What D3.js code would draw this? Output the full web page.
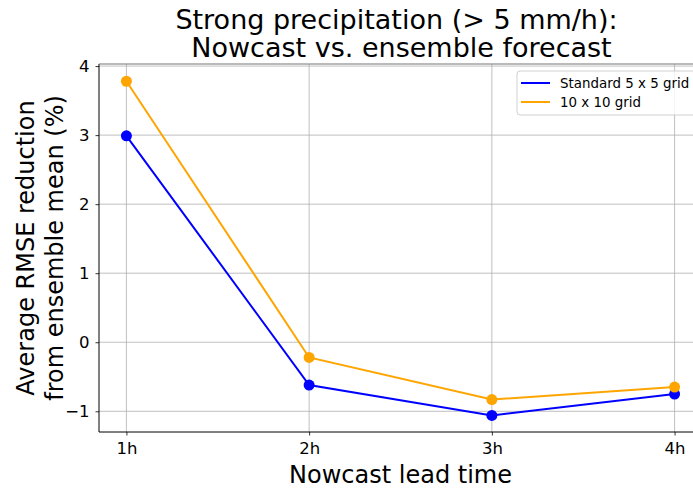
<!DOCTYPE html>
<html>
<head>
<meta charset="utf-8">
<script src="https://cdn.jsdelivr.net/npm/d3@7"></script>
<style>
  body { margin: 0; background: #fff; }
  text { font-family: "DejaVu Sans", sans-serif; }
</style>
</head>
<body>
<div id="chart"></div>
<script>
const leadTimes = ['1h', '2h', '3h', '4h'];
const standardGrid = [2.99, -0.62, -1.06, -0.75];
const largeGrid = [3.78, -0.22, -0.83, -0.65];
const yTicks = [-1, 0, 1, 2, 3, 4];

const width = 693, height = 488;
const margin = {top: 64, right: -9, bottom: 56, left: 99};

const svg = d3.select('#chart').append('svg')
  .attr('width', width)
  .attr('height', height);

const x = d3.scaleLinear()
  .domain([0.85, 4.15])
  .range([margin.left, width - margin.right]);

const y = d3.scaleLinear()
  .domain([-1.30, 4.03])
  .range([height - margin.bottom, margin.top]);

// grid
const grid = svg.append('g');
grid.selectAll('.vg')
  .data(leadTimes)
  .enter().append('line')
  .attr('x1', (d, i) => x(i + 1)).attr('x2', (d, i) => x(i + 1))
  .attr('y1', y.range()[0]).attr('y2', y.range()[1])
  .attr('stroke', '#b0b0b0').attr('stroke-width', 0.8);
grid.selectAll('.hg')
  .data(yTicks)
  .enter().append('line')
  .attr('x1', margin.left).attr('x2', width)
  .attr('y1', d => y(d)).attr('y2', d => y(d))
  .attr('stroke', '#b0b0b0').attr('stroke-width', 0.8);

// axes
const xAxis = svg.append('g')
  .attr('transform', `translate(0,${height - margin.bottom})`)
  .call(d3.axisBottom(x).tickValues([1, 2, 3, 4]).tickFormat((d, i) => leadTimes[i]).tickSize(3.5).tickPadding(7));
const yAxis = svg.append('g')
  .attr('transform', `translate(${margin.left},0)`)
  .call(d3.axisLeft(y).tickValues(yTicks).tickFormat(d => d < 0 ? '\u2212' + Math.abs(d) : d).tickSize(3.5).tickPadding(6));

[xAxis, yAxis].forEach(a => {
  a.select('.domain').remove();
  a.selectAll('text').style('font-size', '16.5px').attr('fill', '#000');
  a.selectAll('line').attr('stroke', '#000').attr('stroke-width', 0.8);
});

// spines
svg.append('line')
  .attr('x1', margin.left).attr('x2', margin.left)
  .attr('y1', y.range()[0]).attr('y2', y.range()[1])
  .attr('stroke', '#000').attr('stroke-width', 1);
svg.append('line')
  .attr('x1', margin.left).attr('x2', width)
  .attr('y1', y.range()[0]).attr('y2', y.range()[0])
  .attr('stroke', '#000').attr('stroke-width', 1);
svg.append('line')
  .attr('x1', margin.left).attr('x2', width)
  .attr('y1', y.range()[1]).attr('y2', y.range()[1])
  .attr('stroke', '#777').attr('stroke-width', 1.2);

// series
const series = [
  {name: 'Standard 5 x 5 grid', values: standardGrid, color: 'blue'},
  {name: '10 x 10 grid', values: largeGrid, color: 'orange'}
];

const line = d3.line()
  .x((d, i) => x(i + 1))
  .y(d => y(d));

series.forEach(s => {
  svg.append('path')
    .datum(s.values)
    .attr('fill', 'none')
    .attr('stroke', s.color)
    .attr('stroke-width', 2)
    .attr('d', line);
  svg.selectAll(null)
    .data(s.values)
    .enter().append('circle')
    .attr('cx', (d, i) => x(i + 1))
    .attr('cy', d => y(d))
    .attr('r', 5.5)
    .attr('fill', s.color);
});

// legend
const legend = svg.append('g').attr('transform', 'translate(517,71)');
legend.append('rect')
  .attr('width', 200).attr('height', 44).attr('rx', 3)
  .attr('fill', '#fff').attr('fill-opacity', 0.8)
  .attr('stroke', '#d0d0d0').attr('stroke-width', 1);
series.forEach((s, i) => {
  const g = legend.append('g').attr('transform', `translate(0,${12 + i * 19})`);
  g.append('line').attr('x1', 4).attr('x2', 33).attr('stroke', s.color).attr('stroke-width', 2);
  g.append('text').attr('x', 43).attr('dy', '0.35em').style('font-size', '13.4px').text(s.name);
});

// titles
const cx = (x.range()[0] + x.range()[1]) / 2;
svg.append('text')
  .attr('x', cx - 4).attr('y', 29)
  .attr('text-anchor', 'middle').style('font-size', '27px')
  .text('Strong precipitation (> 5 mm/h):');
svg.append('text')
  .attr('x', cx + 1).attr('y', 57)
  .attr('text-anchor', 'middle').style('font-size', '27px')
  .text('Nowcast vs. ensemble forecast');

svg.append('text')
  .attr('x', cx).attr('y', 483)
  .attr('text-anchor', 'middle').style('font-size', '24px')
  .text('Nowcast lead time');

const ylab = svg.append('text')
  .attr('transform', `translate(0,${(y.range()[0] + y.range()[1]) / 2}) rotate(-90)`)
  .attr('text-anchor', 'middle').style('font-size', '24px');
ylab.append('tspan').attr('x', 0).attr('y', 34).text('Average RMSE reduction');
ylab.append('tspan').attr('x', 0).attr('y', 63).text('from ensemble mean (%)');
</script>
</body>
</html>
